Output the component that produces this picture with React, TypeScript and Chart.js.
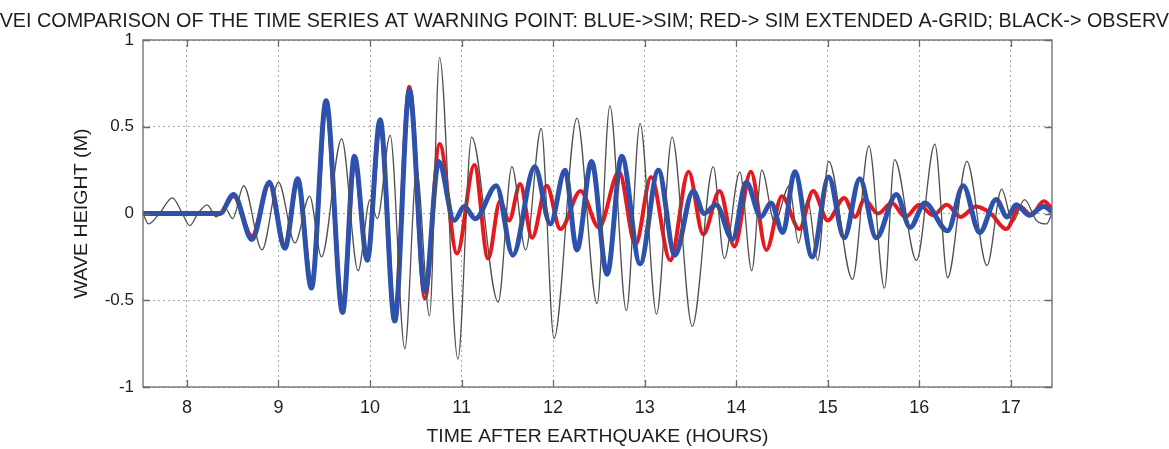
import React, { useEffect, useRef } from "react";
import { Chart, registerables } from "chart.js";

Chart.register(...registerables);

// ---- Data (hours after earthquake, wave height in metres) ----
const blueHours = [
  7.52, 8.36, 8.51, 8.71, 8.9, 9.07, 9.21, 9.36, 9.52, 9.7, 9.83, 9.97, 10.11, 10.27, 10.43, 10.6, 10.75,
  10.92, 11.03, 11.15, 11.38, 11.56, 11.8, 11.97, 12.13, 12.26, 12.42, 12.59, 12.75, 12.95, 13.15, 13.33,
  13.53, 13.65, 13.78, 13.96, 14.11, 14.27, 14.38, 14.51, 14.64, 14.83, 15.01, 15.18, 15.35, 15.53, 15.75,
  15.9, 16.06, 16.31, 16.48, 16.66, 16.84, 16.96, 17.06, 17.2, 17.36, 17.45,
];
const blueValues = [
  0, 0, 0.11, -0.15, 0.18, -0.2, 0.2, -0.43, 0.65, -0.57, 0.33, -0.27, 0.54, -0.62, 0.71, -0.45, 0.3,
  -0.04, 0.04, -0.03, 0.16, -0.24, 0.27, -0.06, 0.25, -0.21, 0.3, -0.35, 0.33, -0.29, 0.25, -0.24,
  0.13, 0.0, 0.05, -0.15, 0.18, -0.02, 0.06, -0.11, 0.24, -0.25, 0.21, -0.14, 0.2, -0.14, 0.11,
  -0.08, 0.06, -0.1, 0.16, -0.11, 0.08, -0.02, 0.05, -0.01, 0.04, 0.01,
];

const redHours = [
  8.38, 8.51, 8.71, 8.9, 9.07, 9.21, 9.36, 9.52, 9.7, 9.83, 9.97, 10.11, 10.27, 10.43, 10.6, 10.76,
  10.95, 11.14, 11.29, 11.42, 11.52, 11.64, 11.77, 11.93, 12.08, 12.3, 12.5, 12.72, 12.9, 13.07, 13.28,
  13.48, 13.64, 13.82, 13.98, 14.16, 14.33, 14.5, 14.69, 14.84, 15.0, 15.18, 15.3, 15.4, 15.55, 15.7,
  15.85, 16.0, 16.15, 16.3, 16.45, 16.62, 16.78, 16.95, 17.1, 17.22, 17.36, 17.45,
];
const redValues = [
  0, 0.1, -0.13, 0.17, -0.18, 0.19, -0.4, 0.6, -0.55, 0.3, -0.25, 0.5, -0.58, 0.73, -0.49, 0.4,
  -0.23, 0.28, -0.26, 0.07, -0.04, 0.17, -0.14, 0.16, -0.09, 0.13, -0.08, 0.24, -0.18, 0.21, -0.27,
  0.24, -0.12, 0.13, -0.19, 0.24, -0.21, 0.1, -0.09, 0.13, -0.04, 0.09, -0.02, 0.08, 0.0, 0.06,
  -0.02, 0.05, -0.01, 0.05, -0.02, 0.04, 0.0, -0.09, 0.04, -0.01, 0.07, 0.03,
];

const blackHours = [
  7.52, 7.58, 7.7, 7.84, 7.95, 8.03, 8.12, 8.22, 8.32, 8.42, 8.5, 8.62, 8.82, 9.0, 9.18, 9.34, 9.47,
  9.69, 9.87, 10.0, 10.08, 10.22, 10.38, 10.51, 10.65, 10.76, 10.96, 11.11, 11.4, 11.55, 11.7, 11.87,
  12.01, 12.26, 12.48, 12.62, 12.8, 12.95, 13.13, 13.3, 13.52, 13.75, 13.87, 14.04, 14.17, 14.28,
  14.42, 14.58, 14.68, 14.78, 14.89, 15.01, 15.27, 15.45, 15.62, 15.73, 15.97, 16.17, 16.31, 16.52,
  16.74, 16.9, 17.02, 17.15, 17.28, 17.39, 17.45,
];
const blackValues = [
  0.0, -0.06, 0.0, 0.09, 0.0, -0.07, 0.0, 0.05, -0.02, 0.03, -0.03, 0.16, -0.21, 0.18, -0.17, 0.1, -0.25,
  0.43, -0.33, 0.08, -0.03, 0.45, -0.78, 0.25, -0.59, 0.9, -0.84, 0.44, -0.51, 0.27, -0.21, 0.49,
  -0.72, 0.55, -0.52, 0.62, -0.56, 0.52, -0.58, 0.44, -0.65, 0.27, -0.26, 0.24, -0.33, 0.25,
  -0.05, 0.16, -0.17, 0.08, -0.27, 0.3, -0.38, 0.39, -0.43, 0.31, -0.27, 0.4, -0.37, 0.3,
  -0.3, 0.14, -0.05, 0.08, -0.04, -0.06, 0.0,
];

const xTicks = [8, 9, 10, 11, 12, 13, 14, 15, 16, 17];
const yTicks = [-1, -0.5, 0, 0.5, 1];
const xMin = 7.52;
const xMax = 17.45;

const titleText =
  "VEI COMPARISON OF THE TIME SERIES AT WARNING POINT: BLUE->SIM; RED-> SIM EXTENDED A-GRID; BLACK-> OBSERVED";
const titlePrefix = "VEI ";
const titleVisible =
  "COMPARISON OF THE TIME SERIES AT WARNING POINT: BLUE->SIM; RED-> SIM EXTENDED A-GRID; BLACK-> OBSERV";
const xTitle = "TIME AFTER EARTHQUAKE (HOURS)";
const yTitle = "WAVE HEIGHT (M)";

const FONT = '"Liberation Sans", Arial, Helvetica, sans-serif';

function toPoints(h: number[], v: number[]) {
  return h.map((x, i) => ({ x, y: v[i] }));
}

const decorPlugin = {
  id: "decor",
  afterDraw(chart: any) {
    const ctx = chart.ctx as CanvasRenderingContext2D;
    const { left, right, top, bottom } = chart.chartArea;
    const xs = chart.scales.x;
    const ys = chart.scales.y;
    ctx.save();
    // box
    ctx.strokeStyle = "#6a6a6a";
    ctx.lineWidth = 1.3;
    ctx.strokeRect(left, top, right - left, bottom - top);
    // inward ticks
    ctx.beginPath();
    const tl = 7;
    xTicks.forEach((t) => {
      const px = Math.round(xs.getPixelForValue(t)) + 0.5;
      ctx.moveTo(px, bottom);
      ctx.lineTo(px, bottom - tl);
      ctx.moveTo(px, top);
      ctx.lineTo(px, top + tl);
    });
    yTicks.forEach((t) => {
      const py = Math.round(ys.getPixelForValue(t)) + 0.5;
      ctx.moveTo(left, py);
      ctx.lineTo(left + tl, py);
      ctx.moveTo(right, py);
      ctx.lineTo(right - tl, py);
    });
    ctx.stroke();

    ctx.fillStyle = "#1e1e1e";
    ctx.textBaseline = "alphabetic";
    // title
    ctx.font = `20px ${FONT}`;
    const wPre = ctx.measureText(titlePrefix).width;
    const wVis = ctx.measureText(titleVisible).width;
    const sx = 1132 / wVis;
    ctx.save();
    ctx.translate(37 - sx * wPre, 27);
    ctx.scale(sx, 1);
    ctx.textAlign = "left";
    ctx.fillText(titleText, 0, 0);
    ctx.restore();

    // x title
    ctx.font = `19px ${FONT}`;
    const wx = ctx.measureText(xTitle).width;
    const sxx = 342 / wx;
    ctx.save();
    ctx.translate((left + right) / 2, 442);
    ctx.scale(sxx, 1);
    ctx.textAlign = "center";
    ctx.fillText(xTitle, 0, 0);
    ctx.restore();

    // y title
    const wy = ctx.measureText(yTitle).width;
    const syy = 170 / wy;
    ctx.save();
    ctx.translate(87, (top + bottom) / 2);
    ctx.rotate(-Math.PI / 2);
    ctx.scale(syy, 1);
    ctx.textAlign = "center";
    ctx.fillText(yTitle, 0, 0);
    ctx.restore();

    ctx.restore();
  },
};

export default function App() {
  const ref = useRef<HTMLCanvasElement | null>(null);

  useEffect(() => {
    if (!ref.current) return;
    const chart = new Chart(ref.current, {
      type: "line",
      data: {
        datasets: [
          {
            label: "OBSERVED",
            data: toPoints(blackHours, blackValues),
            borderColor: "#505050",
            borderWidth: 1.3,
            pointRadius: 0,
            cubicInterpolationMode: "monotone",
            order: 0,
          },
          {
            label: "SIM",
            data: toPoints(blueHours, blueValues),
            borderColor: "#2d52ad",
            borderWidth: 5,
            pointRadius: 0,
            cubicInterpolationMode: "monotone",
            order: 1,
          },
          {
            label: "SIM EXTENDED A-GRID",
            data: toPoints(redHours, redValues),
            borderColor: "#e8191e",
            borderWidth: 4,
            pointRadius: 0,
            cubicInterpolationMode: "monotone",
            order: 2,
          },
        ],
      },
      options: {
        responsive: false,
        animation: false,
        devicePixelRatio: 1,
        layout: { padding: { top: 40, right: 117, left: 0, bottom: 0 } },
        plugins: {
          legend: { display: false },
          title: { display: false },
          tooltip: { enabled: false },
        },
        scales: {
          x: {
            type: "linear",
            min: xMin,
            max: xMax,
            afterBuildTicks: (s: any) => {
              s.ticks = xTicks.map((v) => ({ value: v }));
            },
            afterFit: (s: any) => {
              s.height = 62;
            },
            grid: { color: "#a8a8a8", drawTicks: false, lineWidth: 1 },
            border: { display: false, dash: [2, 3] },
            ticks: {
              padding: 10,
              color: "#1e1e1e",
              font: { family: FONT, size: 18 },
              callback: (v: any) => String(v),
              maxRotation: 0,
            },
          },
          y: {
            type: "linear",
            min: -1,
            max: 1,
            afterBuildTicks: (s: any) => {
              s.ticks = yTicks.map((v) => ({ value: v }));
            },
            afterFit: (s: any) => {
              s.width = 143;
            },
            grid: { color: "#a8a8a8", drawTicks: false, lineWidth: 1 },
            border: { display: false, dash: [2, 3] },
            ticks: {
              padding: 9,
              color: "#1e1e1e",
              font: { family: FONT, size: 17 },
              callback: (v: any) => String(v),
            },
          },
        },
      },
      plugins: [decorPlugin],
    } as any);
    return () => chart.destroy();
  }, []);

  return (
    <div
      style={{
        position: "fixed",
        left: 0,
        top: 0,
        width: 1169,
        height: 449,
        background: "#ffffff",
        overflow: "hidden",
      }}
    >
      <canvas ref={ref} width={1169} height={449} style={{ display: "block" }} />
    </div>
  );
}
